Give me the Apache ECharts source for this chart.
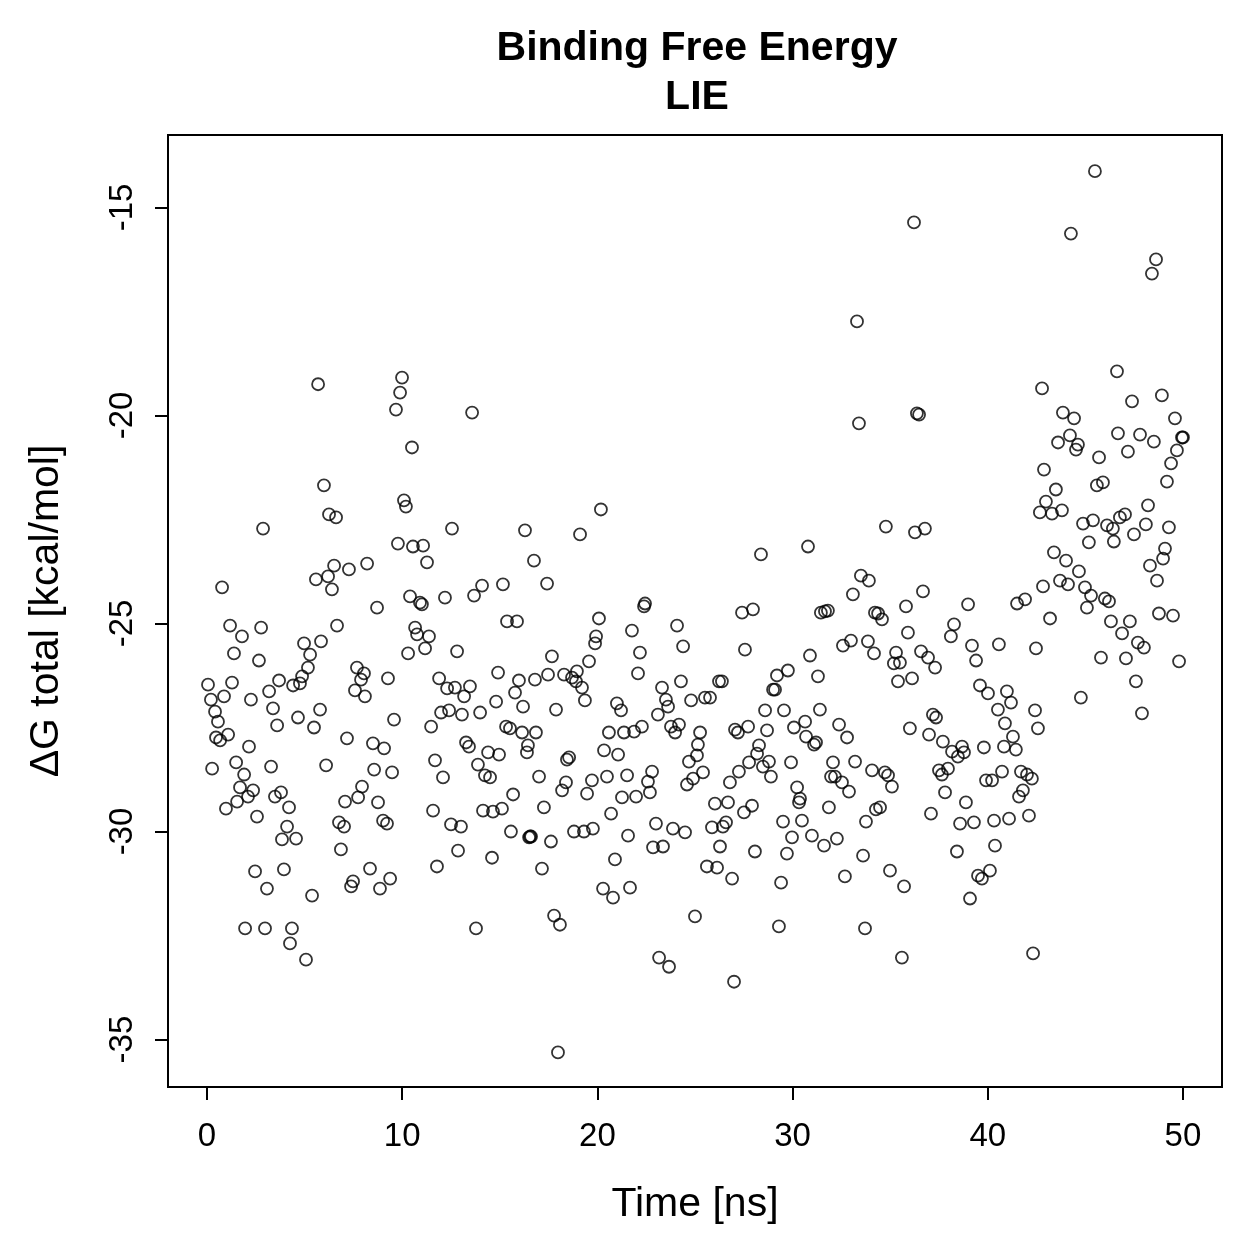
<!DOCTYPE html>
<html>
<head>
<meta charset="utf-8">
<script src="https://cdn.jsdelivr.net/npm/echarts@6/dist/echarts.min.js"></script>
<style>
  html, body { margin: 0; padding: 0; background: #fff; }
  #main { width: 1259px; height: 1259px; }
</style>
</head>
<body>
<div id="main"></div>
<script>
// time [ns] and ΔG total [kcal/mol]
var timeNs = [
  0.05, 0.20, 0.26, 0.41, 0.46, 0.56, 0.67, 0.77, 0.87, 0.97,
  1.08, 1.18, 1.28, 1.38, 1.49, 1.54, 1.69, 1.79, 1.90, 1.95,
  2.10, 2.15, 2.25, 2.36, 2.46, 2.56, 2.66, 2.77, 2.87, 2.97,
  3.07, 3.18, 3.28, 3.38, 3.48, 3.59, 3.69, 3.79, 3.84, 3.94,
  4.10, 4.20, 4.25, 4.35, 4.41, 4.56, 4.66, 4.76, 4.87, 4.97,
  5.07, 5.17, 5.28, 5.38, 5.48, 5.58, 5.69, 5.79, 5.84, 5.99,
  6.10, 6.20, 6.25, 6.40, 6.51, 6.61, 6.66, 6.76, 6.86, 7.02,
  7.07, 7.17, 7.27, 7.38, 7.48, 7.58, 7.68, 7.74, 7.89, 7.94,
  8.09, 8.20, 8.04, 8.35, 8.50, 8.56, 8.71, 8.76, 8.86, 9.02,
  9.07, 9.22, 9.27, 9.38, 9.48, 9.58, 9.68, 9.78, 9.89, 9.99,
  10.09, 10.19, 10.30, 10.40, 10.50, 10.55, 10.66, 10.76, 10.91, 11.01,
  11.07, 11.17, 11.27, 11.37, 11.48, 11.58, 11.68, 11.78, 11.89, 11.99,
  12.09, 12.19, 12.30, 12.40, 12.50, 12.55, 12.70, 12.81, 12.86, 13.01,
  13.06, 13.17, 13.27, 13.42, 13.47, 13.58, 13.68, 13.78, 13.88, 13.99,
  14.09, 14.14, 14.24, 14.40, 14.50, 14.60, 14.65, 14.81, 14.91, 14.96,
  15.11, 15.16, 15.32, 15.37, 15.52, 15.57, 15.68, 15.78, 15.88, 15.98,
  16.14, 16.19, 16.29, 16.39, 16.44, 16.50, 16.60, 16.80, 16.85, 17.01,
  16.75, 17.16, 17.26, 17.42, 17.47, 17.62, 17.67, 17.78, 17.88, 17.98,
  18.08, 18.19, 18.29, 18.39, 18.44, 18.55, 18.70, 18.80, 18.90, 18.95,
  19.11, 19.21, 19.31, 19.36, 19.47, 19.57, 19.72, 19.77, 19.88, 19.93,
  20.08, 20.18, 20.29, 20.34, 20.49, 20.59, 20.70, 20.80, 20.90, 21.00,
  21.06, 21.21, 21.26, 21.36, 21.52, 21.57, 21.67, 21.77, 21.88, 21.98,
  22.08, 22.18, 22.28, 22.39, 22.44, 22.59, 22.69, 22.80, 22.85, 23.00,
  23.10, 23.16, 23.31, 23.36, 23.51, 23.62, 23.67, 23.77, 23.87, 23.98,
  24.08, 24.18, 24.28, 24.39, 24.49, 24.59, 24.69, 24.80, 24.90, 25.00,
  25.10, 25.15, 25.26, 25.51, 25.41, 25.61, 25.77, 25.87, 26.02, 26.13,
  26.23, 26.28, 26.38, 26.43, 26.59, 26.69, 26.79, 26.90, 27.00, 27.05,
  27.20, 27.25, 27.41, 27.51, 27.56, 27.72, 27.77, 27.92, 27.97, 28.07,
  28.18, 28.28, 28.38, 28.48, 28.59, 28.69, 28.79, 28.89, 29.00, 29.10,
  29.20, 29.30, 29.41, 29.51, 29.56, 29.71, 29.76, 29.92, 29.97, 30.07,
  30.23, 30.33, 30.38, 30.48, 30.64, 30.69, 30.79, 30.89, 30.99, 31.10,
  31.20, 31.30, 31.40, 31.45, 31.61, 31.66, 31.81, 31.86, 31.97, 32.07,
  32.17, 32.27, 32.38, 32.53, 32.58, 32.68, 32.79, 32.89, 32.99, 33.09,
  33.20, 33.30, 33.40, 33.50, 33.61, 33.71, 33.76, 33.86, 33.91, 34.07,
  34.22, 34.17, 34.27, 34.38, 34.58, 34.48, 34.73, 34.78, 34.89, 34.99,
  35.09, 35.19, 35.30, 35.40, 35.50, 35.60, 35.71, 35.81, 35.91, 36.01,
  36.12, 36.22, 36.27, 36.37, 36.48, 36.58, 36.68, 36.78, 36.94, 36.99,
  37.09, 37.19, 37.30, 37.35, 37.50, 37.65, 37.70, 37.81, 37.96, 38.11,
  38.17, 38.27, 38.42, 38.47, 38.58, 38.68, 38.78, 38.88, 38.99, 39.09,
  39.19, 39.29, 39.40, 39.50, 39.60, 39.70, 39.80, 39.91, 40.01, 40.11,
  40.22, 40.32, 40.37, 40.52, 40.57, 40.73, 40.83, 40.88, 40.98, 41.09,
  41.19, 41.29, 41.44, 41.50, 41.60, 41.70, 41.80, 41.91, 42.01, 42.11,
  42.26, 42.32, 42.42, 42.47, 42.57, 42.67, 42.78, 42.88, 42.98, 42.83,
  43.19, 43.29, 43.39, 43.49, 43.60, 43.70, 43.80, 43.85, 44.01, 44.11,
  44.21, 44.26, 44.42, 44.52, 44.62, 44.67, 44.77, 44.88, 44.98, 45.08,
  45.18, 45.29, 45.39, 45.49, 45.59, 45.70, 45.80, 45.90, 46.00, 46.11,
  46.21, 46.31, 46.41, 46.46, 46.62, 46.67, 46.77, 46.88, 47.03, 47.08,
  47.18, 47.28, 47.39, 47.49, 47.59, 47.69, 47.80, 47.90, 48.00, 48.10,
  48.21, 48.31, 48.41, 48.51, 48.62, 48.67, 48.77, 48.92, 48.98, 49.08,
  49.18, 49.28, 49.39, 49.49, 49.59, 49.69, 49.80, 49.95, 50.00, 16.55
];
var dgTotal = [
  -26.47, -26.83, -28.49, -27.12, -27.74, -27.36, -27.81, -24.13, -26.75, -29.45,
  -27.67, -25.05, -26.42, -25.72, -28.34, -29.28, -28.94, -25.31, -28.63, -32.33,
  -29.16, -27.96, -26.83, -29.01, -30.96, -29.64, -25.89, -25.10, -22.72, -32.33,
  -31.37, -26.63, -28.44, -27.04, -29.16, -27.45, -26.37, -29.06, -30.19, -30.91,
  -29.88, -29.42, -32.69, -32.33, -26.49, -30.17, -27.26, -26.44, -26.27, -25.48,
  -33.08, -26.06, -25.75, -31.54, -27.50, -23.94, -19.25, -27.07, -25.43, -21.68,
  -28.41, -23.87, -22.38, -24.18, -23.61, -22.45, -25.05, -29.78, -30.43, -29.88,
  -29.28, -27.76, -23.70, -31.32, -31.20, -26.61, -26.06, -29.18, -26.35, -28.92,
  -26.75, -23.56, -26.20, -30.89, -27.88, -28.51, -24.62, -29.30, -31.37, -29.74,
  -28.00, -29.81, -26.32, -31.13, -28.58, -27.31, -19.86, -23.08, -19.45, -19.09,
  -22.04, -22.19, -25.72, -24.35, -20.77, -23.15, -25.10, -25.26, -24.50, -24.54,
  -23.13, -25.60, -23.53, -25.31, -27.48, -29.50, -28.29, -30.84, -26.32, -27.14,
  -28.70, -24.38, -26.56, -27.09, -29.83, -22.72, -26.54, -25.67, -30.46, -29.88,
  -27.19, -26.75, -27.86, -27.96, -26.51, -19.93, -24.33, -32.33, -28.39, -27.14,
  -24.09, -29.50, -28.65, -28.10, -28.70, -30.63, -29.52, -26.88, -26.18, -28.15,
  -29.45, -24.06, -27.48, -24.95, -27.52, -30.00, -29.11, -26.66, -24.95, -26.37,
  -27.62, -27.00, -22.76, -28.10, -27.93, -30.14, -30.12, -26.35, -27.62, -28.68,
  -23.49, -30.89, -29.42, -24.04, -26.23, -30.24, -25.79, -32.02, -27.07, -35.31,
  -32.24, -29.01, -26.23, -28.82, -28.27, -28.22, -26.30, -30.00, -26.39, -26.15,
  -22.86, -26.54, -30.00, -26.85, -29.09, -25.91, -28.77, -29.93, -25.48, -25.31,
  -24.88, -22.26, -31.37, -28.05, -28.68, -27.62, -29.57, -31.59, -30.67, -26.92,
  -28.15, -27.09, -29.18, -27.62, -28.65, -30.10, -31.35, -25.17, -27.60, -29.16,
  -26.20, -25.70, -27.48, -24.59, -24.52, -28.80, -29.06, -28.56, -30.38, -29.81,
  -27.19, -33.03, -26.54, -30.36, -26.83, -27.00, -33.25, -27.48, -29.93, -27.62,
  -25.05, -27.43, -26.39, -25.55, -30.02, -28.87, -28.32, -26.85, -28.73, -32.04,
  -28.17, -27.91, -27.62, -26.78, -28.58, -30.84, -26.78, -29.90, -29.33, -30.87,
  -26.39, -30.36, -26.39, -29.88, -29.78, -29.30, -28.82, -31.13, -33.61, -27.55,
  -27.62, -28.56, -24.74, -29.54, -25.63, -27.48, -28.34, -29.38, -24.66, -30.48,
  -28.13, -27.93, -23.34, -28.44, -27.09, -27.57, -28.32, -28.68, -26.59, -26.59,
  -26.25, -32.28, -31.23, -29.76, -27.09, -30.53, -26.13, -28.34, -30.14, -27.50,
  -28.94, -29.30, -29.21, -29.74, -27.36, -27.72, -23.15, -25.77, -30.10, -27.91,
  -27.86, -26.27, -27.07, -24.74, -30.34, -24.71, -24.69, -29.42, -28.68, -28.34,
  -28.68, -30.17, -27.43, -28.82, -25.53, -31.08, -27.74, -29.04, -25.41, -24.30,
  -28.32, -17.74, -20.19, -23.85, -30.58, -32.33, -29.76, -25.43, -23.97, -28.53,
  -24.74, -25.72, -29.47, -24.76, -24.90, -29.42, -28.58, -22.67, -28.65, -30.94,
  -28.92, -25.96, -25.70, -26.39, -25.94, -33.03, -31.32, -24.59, -25.22, -27.52,
  -26.32, -15.36, -22.81, -19.95, -19.98, -25.67, -24.23, -22.72, -25.82, -27.67,
  -29.57, -27.19, -26.06, -27.26, -28.53, -28.63, -27.84, -29.06, -28.49, -25.31,
  -28.08, -25.02, -30.48, -28.20, -29.81, -27.96, -28.10, -29.30, -24.54, -31.61,
  -25.53, -29.78, -25.89, -31.06, -26.49, -31.13, -27.98, -28.77, -26.68, -30.94,
  -28.77, -29.74, -30.34, -27.07, -25.50, -28.56, -27.96, -27.40, -26.63, -29.69,
  -26.90, -27.72, -28.03, -24.52, -29.16, -28.56, -29.01, -24.42, -28.63, -29.62,
  -28.73, -32.93, -27.09, -25.60, -27.52, -22.33, -19.35, -21.30, -22.07, -24.11,
  -24.88, -22.36, -23.29, -21.78, -20.65, -23.97, -22.28, -19.93, -23.49, -24.06,
  -20.48, -15.63, -20.07, -20.82, -20.70, -23.75, -26.78, -22.60, -24.13, -24.62,
  -23.05, -24.33, -22.52, -14.13, -21.68, -21.01, -25.82, -21.61, -24.40, -22.64,
  -24.47, -24.95, -22.72, -23.03, -18.94, -20.43, -22.45, -25.24, -22.38, -25.84,
  -20.87, -24.95, -19.66, -22.86, -26.39, -25.46, -20.46, -27.16, -25.58, -22.62,
  -22.16, -23.61, -16.59, -20.63, -16.25, -23.97, -24.76, -19.52, -23.44, -23.20,
  -21.59, -22.69, -21.15, -24.81, -20.07, -20.84, -25.91, -20.53, -20.53, -30.12
];
var xTicks = [0, 10, 20, 30, 40, 50];
var yTicks = [-35, -30, -25, -20, -15];

var points = timeNs.map(function (t, i) {
    return [t, dgTotal[i]];
});

var fontFamily = '"Liberation Sans", Arial, Helvetica, sans-serif';
var myChart = echarts.init(document.getElementById('main'));
var option = {
    animation: false,
    backgroundColor: '#fff',
    title: {
        text: 'Binding Free Energy\nLIE',
        left: 692,
        top: 19,
        textAlign: 'center',
        textStyle: {
            fontFamily: fontFamily,
            fontSize: 41,
            fontWeight: 'bold',
            lineHeight: 49,
            color: '#000'
        }
    },
    grid: {
        left: 168,
        top: 135,
        width: 1054,
        height: 952,
        show: true,
        borderColor: '#000',
        borderWidth: 2,
        backgroundColor: 'transparent'
    },
    xAxis: {
        type: 'value',
        min: -2,
        max: 52,
        name: 'Time [ns]',
        nameLocation: 'middle',
        nameGap: 97,
        nameTextStyle: { fontFamily: fontFamily, fontSize: 41, color: '#000' },
        axisLine: { show: false, onZero: false },
        splitLine: { show: false },
        axisTick: {
            show: true,
            inside: false,
            length: 13,
            customValues: xTicks,
            lineStyle: { color: '#000', width: 2 }
        },
        axisLabel: {
            customValues: xTicks,
            margin: 33,
            fontFamily: fontFamily,
            fontSize: 33,
            color: '#000'
        }
    },
    yAxis: {
        type: 'value',
        min: -36.14,
        max: -13.26,
        name: 'ΔG total [kcal/mol]',
        nameLocation: 'middle',
        nameGap: 101,
        nameTextStyle: { fontFamily: fontFamily, fontSize: 41, color: '#000' },
        axisLine: { show: false, onZero: false },
        splitLine: { show: false },
        axisTick: {
            show: true,
            inside: false,
            length: 13,
            customValues: yTicks,
            lineStyle: { color: '#000', width: 2 }
        },
        axisLabel: {
            customValues: yTicks,
            rotate: 90,
            margin: 29,
            fontFamily: fontFamily,
            fontSize: 33,
            color: '#000'
        }
    },
    series: [{
        type: 'scatter',
        data: points,
        symbol: 'circle',
        symbolSize: 12,
        itemStyle: {
            color: 'rgba(0,0,0,0)',
            borderColor: '#000',
            borderWidth: 1.8
        },
        emphasis: { disabled: true }
    }]
};
myChart.setOption(option);
</script>
</body>
</html>
